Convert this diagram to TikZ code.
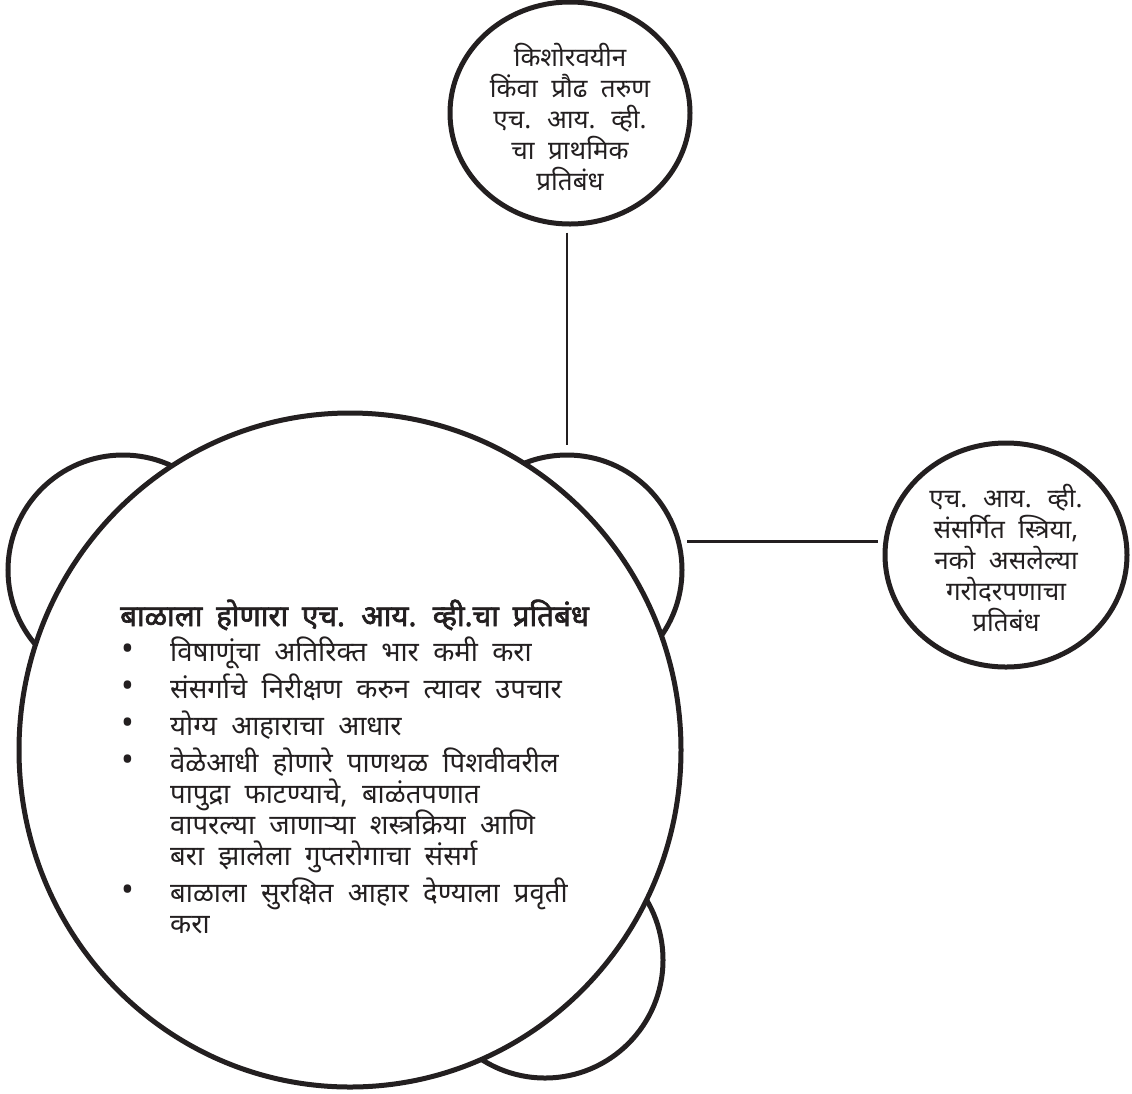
\documentclass[tikz,border=0pt]{standalone}
\usepackage{fontspec}
\setmainfont[Script=Devanagari, WordSpace=2]{Noto Sans}
\newfontfamily\headfont[Script=Devanagari, WordSpace=1.8, FakeBold=2.2]{Noto Sans}
\usetikzlibrary{shapes.geometric}
\definecolor{ink}{HTML}{231F20}
\begin{document}
\begin{tikzpicture}[x=1pt,y=-1pt,
  ring/.style={draw=ink, line width=5pt, fill=white, inner sep=0pt},
  link/.style={draw=ink, line width=2.5pt},
  txt/.style={anchor=base west, inner sep=0pt, text=ink, font=\fontsize{27.5}{30}\selectfont},
  ctext/.style={align=center, inner sep=0pt, text=ink, font=\fontsize{26}{31}\selectfont},
  dot/.style={inner sep=0pt, text=ink, font=\fontsize{34}{30}\selectfont}]
\useasboundingbox (0,0) rectangle (1132,1093);
% circles behind the main one
\node[ring, circle, minimum size=230pt] (tl) at (123,570) {};
\node[ring, circle, minimum size=230pt] (tr) at (567,570) {};
\node[ring, circle, minimum size=236pt] (br) at (545,960) {};
\node[ring, ellipse, minimum width=662pt, minimum height=674pt] (big) at (350,750) {};
% outer circles
\node[ring, ellipse, minimum width=240pt, minimum height=222pt] (top) at (570,113) {};
\node[ctext] (toptext) at (570,117) {किशोरवयीन\\किंवा प्रौढ तरुण\\एच. आय. व्ही.\\चा प्राथमिक\\प्रतिबंध};
\node[ring, ellipse, minimum width=242pt, minimum height=224pt] (rc) at (1006,555) {};
\node[ctext] (rctext) at (1006,558) {एच. आय. व्ही.\\संसर्गित स्त्रिया,\\नको असलेल्या\\गरोदरपणाचा\\प्रतिबंध};
% connectors
\draw[link, shorten <=6pt, shorten >=8pt] (top.south -| tr.north) -- (tr.north);
\draw[link, shorten <=6pt, shorten >=5pt] (tr.14) -- (tr.14 -| rc.west);
% main text
\node[txt, font=\fontsize{29.5}{30}\headfont] (head) at (120,626) {बाळाला होणारा एच. आय. व्ही.चा प्रतिबंध};
\node[dot] (d1) at (128,652) {•};
\node[dot] (d2) at (128,689) {•};
\node[dot] (d3) at (128,726) {•};
\node[dot] (d4) at (128,763) {•};
\node[dot] (d5) at (128,893) {•};
\node[txt] (l1) at (170,661) {विषाणूंचा अतिरिक्त भार कमी करा};
\node[txt] (l2) at (170,698) {संसर्गाचे निरीक्षण करुन त्यावर उपचार};
\node[txt] (l3) at (170,735) {योग्य आहाराचा आधार};
\node[txt] (l4a) at (170,772) {वेळेआधी होणारे पाणथळ पिशवीवरील};
\node[txt] (l4b) at (170,803) {पापुद्रा फाटण्याचे, बाळंतपणात};
\node[txt] (l4c) at (170,834) {वापरल्या जाणाऱ्या शस्त्रक्रिया आणि};
\node[txt] (l4d) at (170,865) {बरा झालेला गुप्तरोगाचा संसर्ग};
\node[txt] (l5a) at (170,902) {बाळाला सुरक्षित आहार देण्याला प्रवृती};
\node[txt] (l5b) at (170,933) {करा};
\end{tikzpicture}
\end{document}
